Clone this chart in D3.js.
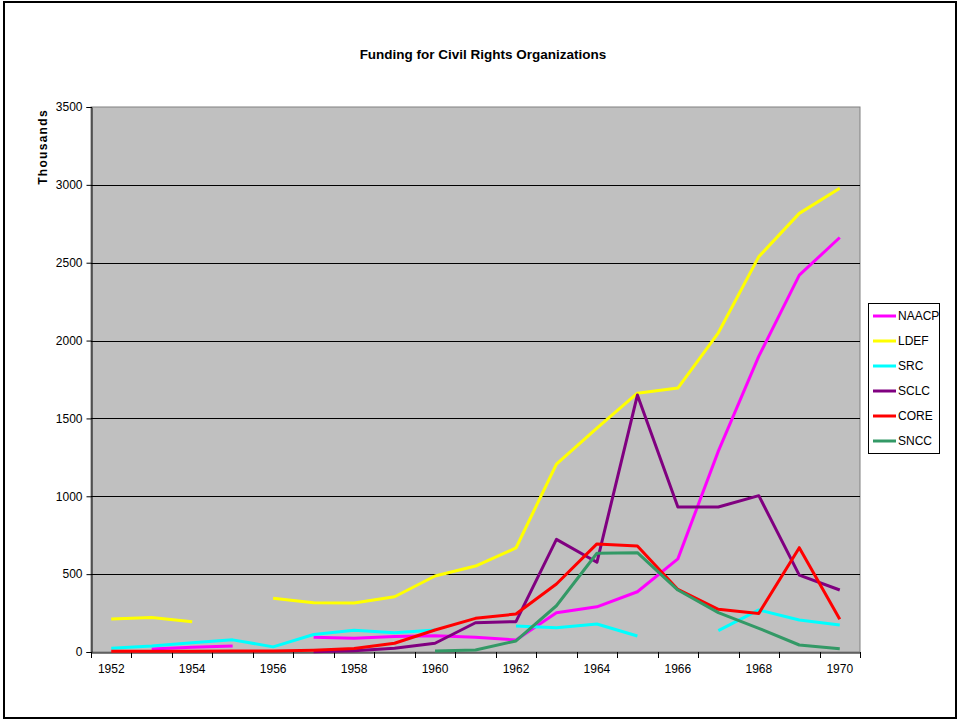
<!DOCTYPE html>
<html>
<head>
<meta charset="utf-8">
<script src="https://cdn.jsdelivr.net/npm/d3@7"></script>
<style>
  body { margin: 0; background: #fff; }
  svg text { font-family: "Liberation Sans", Arial, sans-serif; }
</style>
</head>
<body>
<script>
// years on the category axis
var years = d3.range(1952, 1971);
var yTicks = [0, 500, 1000, 1500, 2000, 2500, 3000, 3500];

// funding in thousands, null = no data that year
var naacp = [null, 20, 30, 38, null, 95, 88, 100, 105, 94, 77, 252, 290, 387, 598, 1290, 1900, 2420, 2662];
var ldef  = [212, 222, 195, null, 345, 317, 315, 355, 488, 552, 668, 1207, 1438, 1662, 1695, 2050, 2539, 2817, 2978];
var src   = [24, 38, 60, 78, 33, 112, 139, 124, 141, null, 167, 156, 180, 103, null, 137, 270, 205, 173];
var sclc  = [null, null, null, null, null, 2, 8, 24, 56, 188, 195, 723, 576, 1650, 931, 931, 1004, 494, 398];
var core  = [5, 5, 5, 6, 6, 12, 22, 56, 141, 216, 244, 437, 694, 681, 402, 274, 248, 670, 210];
var sncc  = [null, null, null, null, null, null, null, null, 6, 13, 71, 297, 634, 638, 398, 253, 152, 45, 21];

var seriesNames = ["NAACP", "LDEF", "SRC", "SCLC", "CORE", "SNCC"];
var seriesValues = [naacp, ldef, src, sclc, core, sncc];
var colors = ["#FF00FF", "#FFFF00", "#00FFFF", "#800080", "#FF0000", "#339966"];

var w = 959, h = 720;
// plot area edges (don't call these top/left, window.top is taken)
var pL = 91, pR = 860, pT = 107, pB = 652;

var svg = d3.select("body").append("svg")
            .attr("width", w)
            .attr("height", h);

// outer chart frame
svg.append("rect")
   .attr("x", 4).attr("y", 2)
   .attr("width", 952).attr("height", 716)
   .attr("fill", "#fff")
   .attr("stroke", "#000")
   .attr("stroke-width", 2);

var xScale = d3.scaleBand()
               .domain(years)
               .range([pL, pR])
               .padding(0);
var yScale = d3.scaleLinear()
               .domain([0, 3500])
               .range([pB, pT]);

// plot area
svg.append("rect")
   .attr("x", pL).attr("y", pT)
   .attr("width", pR - pL).attr("height", pB - pT)
   .attr("fill", "#C0C0C0")
   .attr("stroke", "#808080")
   .attr("stroke-width", 1);

// gridlines
svg.append("g")
   .selectAll("line")
   .data(yTicks.filter(function(d){ return d > 0 && d < 3500; }))
   .enter()
   .append("line")
   .attr("x1", pL).attr("x2", pR)
   .attr("y1", function(d){ return Math.round(yScale(d)) + 0.5; })
   .attr("y2", function(d){ return Math.round(yScale(d)) + 0.5; })
   .attr("stroke", "#000")
   .attr("stroke-width", 1);

/****Axes****/
var yAxis = d3.axisLeft(yScale)
              .tickValues(yTicks)
              .tickSize(5)
              .tickPadding(4)
              .tickFormat(d3.format("d"));
var gy = svg.append("g")
   .attr("transform", "translate(" + (pL + 0.5) + ",0)")
   .call(yAxis);
gy.selectAll("text").attr("font-size", "12px").attr("fill", "#000");

var xAxis = d3.axisBottom(xScale)
              .tickSize(0)
              .tickPadding(12)
              .tickFormat(function(d){ return d % 2 === 0 ? d : ""; });
var gx = svg.append("g")
   .attr("transform", "translate(0," + (pB + 0.5) + ")")
   .call(xAxis);
gx.select(".domain").attr("stroke", "#000");
gx.selectAll("text").attr("font-size", "12px").attr("fill", "#000");

// tick marks sit on the category boundaries
svg.append("g")
   .selectAll("line")
   .data(years.concat([1971]))
   .enter()
   .append("line")
   .attr("x1", function(d){ return Math.round(d === 1971 ? pR : xScale(d)) + 0.5; })
   .attr("x2", function(d){ return Math.round(d === 1971 ? pR : xScale(d)) + 0.5; })
   .attr("y1", pB)
   .attr("y2", pB + 6)
   .attr("stroke", "#000");

/****Lines****/
var line = d3.line()
             .defined(function(d){ return d.v !== null; })
             .x(function(d){ return xScale(d.year) + xScale.bandwidth() / 2; })
             .y(function(d){ return yScale(d.v); });

seriesValues.forEach(function(vals, i) {
  var pts = years.map(function(y, j){ return {year: y, v: vals[j]}; });
  svg.append("path")
     .datum(pts)
     .attr("d", line)
     .attr("fill", "none")
     .attr("stroke", colors[i])
     .attr("stroke-width", 3)
     .attr("stroke-linejoin", "round");
});

/****Text****/
svg.append("text")
   .attr("x", 483)
   .attr("y", 59)
   .attr("text-anchor", "middle")
   .attr("font-size", "13.5px")
   .attr("font-weight", "bold")
   .text("Funding for Civil Rights Organizations");

svg.append("text")
   .attr("transform", "translate(47,147) rotate(-90)")
   .attr("text-anchor", "middle")
   .attr("font-size", "12px")
   .attr("font-weight", "bold")
   .attr("letter-spacing", "1.3px")
   .text("Thousands");

/****Legend****/
var legend = svg.append("g");
legend.append("rect")
      .attr("x", 868.5).attr("y", 303.5)
      .attr("width", 71).attr("height", 150)
      .attr("fill", "#fff")
      .attr("stroke", "#000");
var items = legend.selectAll("g.item")
      .data(seriesNames)
      .enter()
      .append("g")
      .attr("transform", function(d, i){ return "translate(0," + (316 + i * 25) + ")"; });
items.append("line")
     .attr("x1", 873).attr("x2", 896)
     .attr("y1", 0).attr("y2", 0)
     .attr("stroke", function(d, i){ return colors[i]; })
     .attr("stroke-width", 3);
items.append("text")
     .attr("x", 898)
     .attr("y", 4)
     .attr("font-size", "12px")
     .text(function(d){ return d; });
</script>
</body>
</html>
